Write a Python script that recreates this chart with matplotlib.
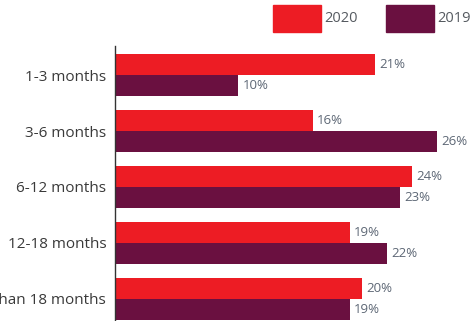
import numpy as np
import matplotlib
matplotlib.use('Agg')
import matplotlib.pyplot as plt
from matplotlib.patches import Rectangle

# time-to-hire buckets, share of responses per year
categories = ['1-3 months', '3-6 months', '6-12 months', '12-18 months', 'More than 18 months']
share_2020 = [21, 16, 24, 19, 20]
share_2019 = [10, 26, 23, 22, 19]
years = ['2020', '2019']

red    = '#ED1C24'
purple = '#6A1040'

plt.rcParams['font.family'] = ['Open Sans', 'DejaVu Sans']

W, H = 471, 321
fig = plt.figure(figsize=(W/100, H/100), dpi=100)
ax = fig.add_axes([114.5/W, 0, 347.2/W, 275/H])

y = np.arange(len(categories))
h = 0.375
b1 = ax.barh(y - h/2, share_2020, height=h, color=red)
b2 = ax.barh(y + h/2, share_2019, height=h, color=purple)

for bars, vals in ((b1, share_2020), (b2, share_2019)):
    for bar, v in zip(bars, vals):
        ax.annotate('%d%%' % v, (bar.get_width(), bar.get_y() + bar.get_height()/2),
                    xytext=(3, 0), textcoords='offset points',
                    ha='left', va='center', fontsize=9.5, color='#5d6775')

ax.set_xlim(0, 28)
ax.set_ylim(4.393, -0.518)
ax.set_yticks(y)
ax.set_yticklabels(categories, fontsize=11, color='#3a3a3a')
ax.tick_params(axis='y', length=0, pad=6)
ax.set_xticks([])
for s in ['top', 'right', 'bottom']:
    ax.spines[s].set_visible(False)
ax.spines['left'].set_color('#333333')
ax.spines['left'].set_linewidth(1)

# legend swatches drawn in figure pixels
for x0, col, lab in zip([273, 386], [red, purple], years):
    fig.patches.append(Rectangle((x0/W, 1 - 32/H), 48/W, 27/H, color=col,
                                 transform=fig.transFigure, figure=fig))
    fig.text((x0 + 51)/W, 1 - 19/H, lab, fontsize=10.5, color='#555a60',
             ha='left', va='center')

fig.savefig('out.png', dpi=100)
